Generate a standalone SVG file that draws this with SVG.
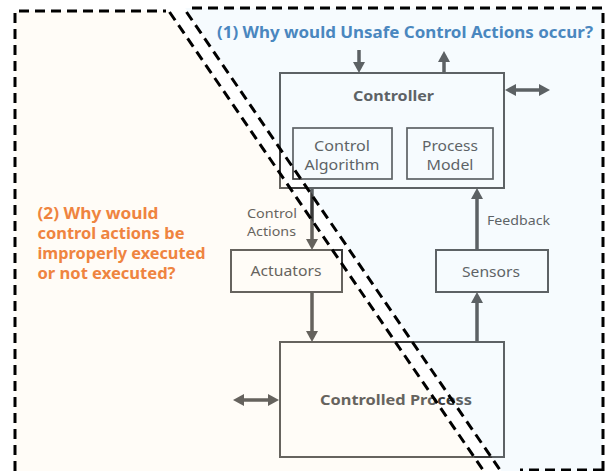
<svg xmlns="http://www.w3.org/2000/svg" width="605" height="471" viewBox="0 0 605 471">
  <defs>
    <marker id="ah" viewBox="0 -6 11 12" refX="0" refY="0" markerWidth="11" markerHeight="12" markerUnits="userSpaceOnUse" orient="auto-start-reverse">
      <path d="M0,-6 L11,0 L0,6 z" fill="#3a3a3a"/>
    </marker>
    <style>
      .box { fill: #ffffff; stroke: #3c3c3c; stroke-width: 2; }
      .inner { fill: #ffffff; stroke: #3c3c3c; stroke-width: 1.7; }
      .t { font-family: "Noto Sans", "Open Sans", sans-serif; fill: #3c3c3c; }
      .b { font-weight: bold; font-size: 15px; }
      .r { font-size: 15px; }
      .s { font-size: 13px; }
      .arr { stroke: #3a3a3a; stroke-width: 3.5; fill: none; marker-end: url(#ah); }
      .dbl { stroke: #3a3a3a; stroke-width: 3.5; fill: none; marker-start: url(#ah); marker-end: url(#ah); }
      .dash { fill: none; stroke: #000000; stroke-width: 3; stroke-dasharray: 10 6; }
      .q { font-family: "Noto Sans", "Open Sans", sans-serif; font-weight: bold; }
    </style>
  </defs>

  <rect x="0" y="0" width="605" height="471" fill="#ffffff"/>

  <g id="controller">
    <rect class="box" x="280" y="73" width="224" height="115"/>
    <text class="t b" x="393.5" y="101" text-anchor="middle" textLength="81" lengthAdjust="spacingAndGlyphs">Controller</text>
  </g>
  <g id="control-algorithm">
    <rect class="inner" x="293" y="128" width="99" height="51"/>
    <text class="t r" x="342" y="151" text-anchor="middle" textLength="56" lengthAdjust="spacingAndGlyphs">Control</text>
    <text class="t r" x="342" y="170" text-anchor="middle" textLength="75" lengthAdjust="spacingAndGlyphs">Algorithm</text>
  </g>
  <g id="process-model">
    <rect class="inner" x="407" y="128" width="86" height="51"/>
    <text class="t r" x="450" y="151" text-anchor="middle" textLength="56" lengthAdjust="spacingAndGlyphs">Process</text>
    <text class="t r" x="450" y="170" text-anchor="middle" textLength="47" lengthAdjust="spacingAndGlyphs">Model</text>
  </g>
  <g id="actuators">
    <rect class="box" x="231" y="250" width="111" height="42"/>
    <text class="t r" x="286" y="276" text-anchor="middle" textLength="71" lengthAdjust="spacingAndGlyphs">Actuators</text>
  </g>
  <g id="sensors">
    <rect class="box" x="436" y="250" width="112" height="42"/>
    <text class="t r" x="491" y="277" text-anchor="middle" textLength="58" lengthAdjust="spacingAndGlyphs">Sensors</text>
  </g>
  <g id="controlled-process">
    <rect class="box" x="280" y="342" width="224" height="115"/>
    <text class="t b" x="396" y="405" text-anchor="middle" textLength="152" lengthAdjust="spacingAndGlyphs">Controlled Process</text>
  </g>

  <g id="connectors">
    <line class="arr" x1="359" y1="50" x2="359" y2="62"/>
    <line class="arr" x1="444" y1="73" x2="444" y2="62"/>
    <line class="dbl" x1="516" y1="90" x2="539" y2="90"/>
    <line class="arr" x1="312" y1="188" x2="312" y2="239"/>
    <line class="arr" x1="312" y1="292" x2="312" y2="331"/>
    <line class="arr" x1="477" y1="342" x2="477" y2="303"/>
    <line class="arr" x1="477" y1="250" x2="477" y2="199"/>
    <line class="dbl" x1="244" y1="400" x2="268" y2="400"/>
    <text class="t s" x="247" y="218" textLength="50" lengthAdjust="spacingAndGlyphs">Control</text>
    <text class="t s" x="247" y="236" textLength="49" lengthAdjust="spacingAndGlyphs">Actions</text>
    <text class="t s" x="487" y="225" textLength="63" lengthAdjust="spacingAndGlyphs">Feedback</text>
  </g>

  <g id="regions">
    <path d="M15,11 L168.6,11 L483.7,471 L15,471 Z" fill="#fff0dc" fill-opacity="0.22"/>
    <path d="M185.2,8 L603,8 L603,471 L501.4,471 Z" fill="#d6eefa" fill-opacity="0.22"/>
    <path class="dash" d="M15,471 L15,11 L166,11"/>
    <path class="dash" d="M169.5,12 L483.7,471"/>
    <path class="dash" d="M186.5,12 L500.7,471"/>
    <path class="dash" d="M192,8 L603,8 L603,471"/>
    <path class="dash" d="M603,470 L520,470" stroke="#8a8a8a" stroke-width="2"/>
  </g>

  <g id="questions">
    <text class="q" x="217" y="38" font-size="15.5" fill="#4a87bf" textLength="376" lengthAdjust="spacingAndGlyphs">(1) Why would Unsafe Control Actions occur?</text>
    <text class="q" x="37.5" y="219" font-size="16" fill="#ef8440" textLength="121" lengthAdjust="spacingAndGlyphs">(2) Why would</text>
    <text class="q" x="37.5" y="239" font-size="16" fill="#ef8440" textLength="147" lengthAdjust="spacingAndGlyphs">control actions be</text>
    <text class="q" x="37.5" y="259" font-size="16" fill="#ef8440" textLength="168" lengthAdjust="spacingAndGlyphs">improperly executed</text>
    <text class="q" x="37.5" y="279" font-size="16" fill="#ef8440" textLength="138" lengthAdjust="spacingAndGlyphs">or not executed?</text>
  </g>
</svg>
